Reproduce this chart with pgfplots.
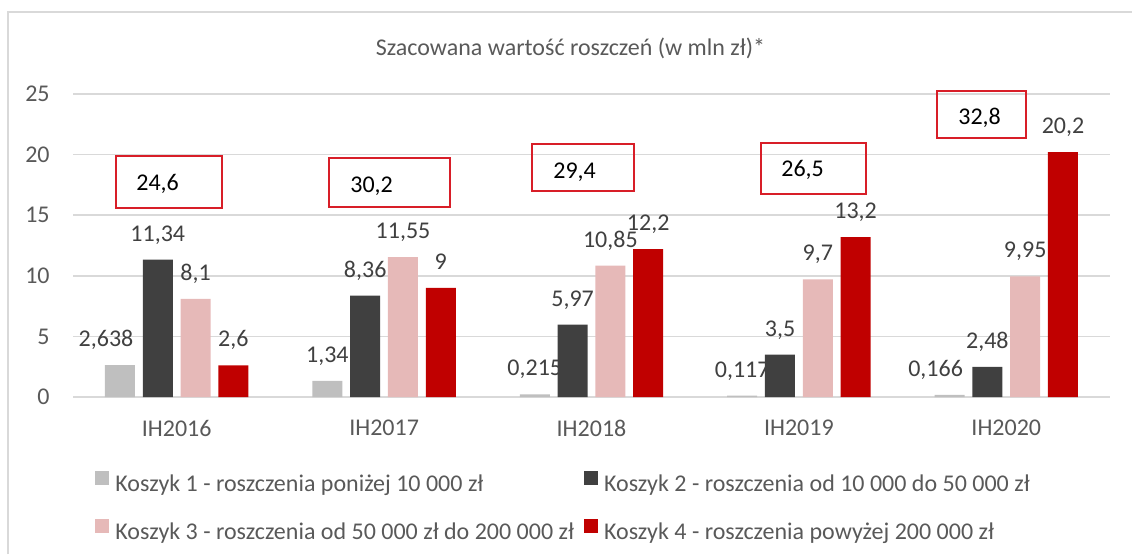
\documentclass[border=0pt]{standalone}
\usepackage{fontspec}
\setmainfont{Carlito}
\usepackage{pgfplots}
\pgfplotsset{compat=1.18}

\definecolor{kosz1}{HTML}{BFBFBF}
\definecolor{kosz2}{HTML}{404040}
\definecolor{kosz3}{HTML}{E6B9B8}
\definecolor{kosz4}{HTML}{C00000}
\definecolor{siatka}{HTML}{D9D9D9}
\definecolor{tekst}{HTML}{595959}
\definecolor{ramka}{HTML}{D81E28}

\begin{document}
\begin{tikzpicture}[font=\fontsize{12}{14}\selectfont]
\useasboundingbox (0,0) rectangle (566pt,277pt);
% chart frame (only left and top edges visible)
\draw[siatka, line width=0.75pt] (4pt,0pt) -- (4pt,271pt) -- (566pt,271pt);
\node[anchor=base, text=tekst] at (285.25pt,249.5pt) {Szacowana wartość roszczeń (w mln zł)*};

\begin{axis}[
    at={(36.5pt,78.5pt)}, anchor=south west,
    scale only axis, width=518.5pt, height=151.5pt,
    ybar=3.9pt, bar width=15pt,
    xmin=-0.5, xmax=4.5, ymin=0, ymax=25,
    xtick={0,1,2,3,4},
    xticklabels={IH2016,IH2017,IH2018,IH2019,IH2020},
    ytick={0,5,10,15,20,25},
    axis x line*=bottom, axis y line*=left,
    y axis line style={draw=none},
    x axis line style={siatka, line width=0.75pt},
    major tick length=0pt,
    ymajorgrids, grid style={siatka, line width=0.75pt},
    tick label style={text=tekst},
    yticklabel style={anchor=east, inner sep=0pt, xshift=-11.5pt},
    xticklabel style={anchor=north, inner sep=0pt, yshift=-11.5pt},
    /pgf/number format/.cd, use comma, 1000 sep={}, precision=3, assume math mode=true,
    /pgfplots/.cd,
    nodes near coords,
    nodes near coords style={anchor=base, inner sep=0pt, yshift=9.25pt, text=kosz2},
    clip=false,
    legend columns=2,
    legend cell align=left,
    legend image code/.code={\fill[#1] (0pt,0.35pt) rectangle (7pt,7.35pt);},
    legend style={at={(axis description cs:0.0212,-0.243)}, anchor=north west,
        draw=none, fill=none, inner sep=0pt, row sep=10.5pt, text=tekst,
        nodes={inner sep=0pt, text height=9pt, text depth=3pt},
        /tikz/every odd column/.append style={column sep=3pt},
        /tikz/every even column/.append style={column sep=5pt}},
]
\addplot[fill=kosz1, draw=none,
    visualization depends on={value \thisrow{dx}\as\dx},
    nodes near coords style={xshift=\dx pt}] table {
x y dx
0 2.638 -7
1 1.34 0
2 0.215 0
3 0.117 0
4 0.166 -7
};
\addlegendentry{Koszyk 1 - roszczenia poniżej 10 000 zł}
\addplot[fill=kosz2, draw=none] coordinates {(0,11.34) (1,8.36) (2,5.97) (3,3.5) (4,2.48)};
\addlegendentry{Koszyk 2 - roszczenia od 10 000 do 50 000 zł}
\addplot[fill=kosz3, draw=none] coordinates {(0,8.1) (1,11.55) (2,10.85) (3,9.7) (4,9.95)};
\addlegendentry{Koszyk 3 - roszczenia od 50 000 zł do 200 000 zł}
\addplot[fill=kosz4, draw=none] coordinates {(0,2.6) (1,9) (2,12.2) (3,13.2) (4,20.2)};
\addlegendentry{Koszyk 4 - roszczenia powyżej 200 000 zł}

% totals in red-framed text boxes
\draw[ramka, line width=0.6pt] (axis cs:-0.2927,19.88) rectangle (axis cs:0.2184,15.59);
\node[anchor=base west, inner sep=0pt] at (axis cs:-0.1962,17.08) {24,6};
\draw[ramka, line width=0.6pt] (axis cs:0.7343,19.72) rectangle (axis cs:1.3178,15.68);
\node[anchor=base west, inner sep=0pt] at (axis cs:0.8356,16.91) {30,2};
\draw[ramka, line width=0.6pt] (axis cs:1.7131,20.87) rectangle (axis cs:2.2049,17.00);
\node[anchor=base west, inner sep=0pt] at (axis cs:1.8144,18.07) {29,4};
\draw[ramka, line width=0.6pt] (axis cs:2.8173,20.96) rectangle (axis cs:3.3236,16.75);
\node[anchor=base west, inner sep=0pt] at (axis cs:2.9137,18.23) {26,5};
\draw[ramka, line width=0.6pt] (axis cs:3.6659,25.25) rectangle (axis cs:4.0950,21.37);
\node[anchor=base west, inner sep=0pt] at (axis cs:3.7671,22.52) {32,8};
\end{axis}
\end{tikzpicture}
\end{document}
